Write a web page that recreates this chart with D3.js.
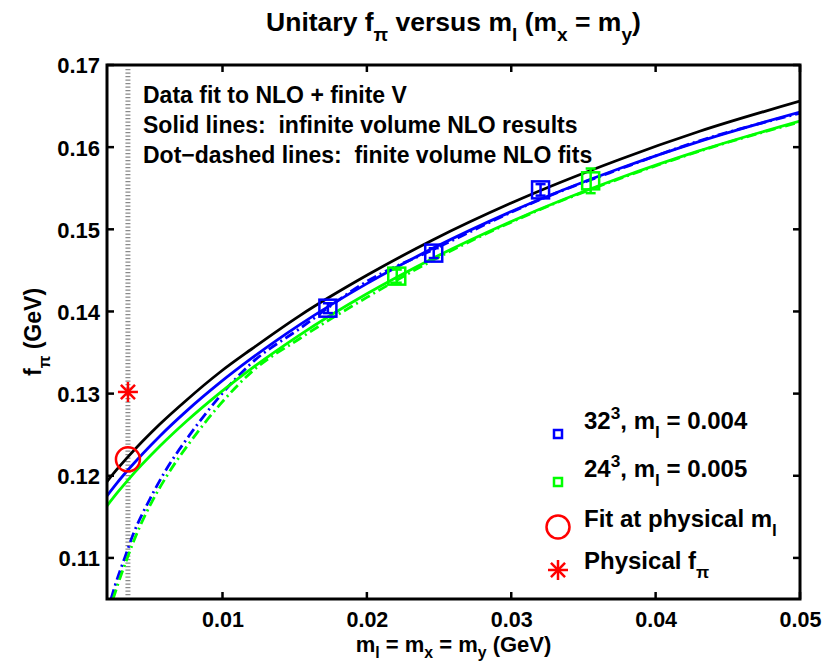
<!DOCTYPE html>
<html><head><meta charset="utf-8">
<script src="https://cdn.jsdelivr.net/npm/d3@7"></script>
<style>
body{margin:0;background:#fff}
svg text{font-family:"Liberation Sans",Arial,Helvetica,sans-serif;font-weight:bold;fill:#000}
</style>
</head><body>
<svg id="chart" width="827" height="663"></svg>
<script>
// ---- data ----
const xTicks = [0.01, 0.02, 0.03, 0.04, 0.05];
const yTicks = [0.11, 0.12, 0.13, 0.14, 0.15, 0.16, 0.17];

// infinite-volume NLO curves (solid)
const solidX      = [0.002, 0.0027, 0.00345, 0.00567, 0.0075, 0.00982, 0.012, 0.01536, 0.02, 0.02456, 0.03, 0.0375, 0.043, 0.05];
const blackSolidY = [0.1193, 0.1208, 0.1223, 0.1263, 0.1292, 0.1326, 0.1354, 0.1395, 0.1444, 0.1487, 0.1532, 0.1585, 0.1619, 0.1656];
const blueSolidY  = [0.11756, 0.11914, 0.12070, 0.12485, 0.12787, 0.13133, 0.13428, 0.13840, 0.14339, 0.14768, 0.15216, 0.15740, 0.16068, 0.16427];
const greenSolidY = [0.11634, 0.11791, 0.11948, 0.12361, 0.12663, 0.13009, 0.13304, 0.13716, 0.14216, 0.14646, 0.15096, 0.15624, 0.15954, 0.16317];

// finite-volume NLO fits (dot-dashed)
const blueDashX  = [0.00228, 0.00255, 0.00325, 0.0038, 0.00498, 0.00601, 0.00774, 0.00968, 0.0119, 0.01536, 0.02, 0.02456, 0.03197, 0.0375, 0.04304, 0.04996];
const blueDashY  = [0.1050, 0.10659, 0.11012, 0.11281, 0.11720, 0.12049, 0.1250, 0.12939, 0.13354, 0.13793, 0.14366, 0.1475, 0.15360, 0.15732, 0.16077, 0.16411];
const greenDashX = [0.00242, 0.00269, 0.00338, 0.00394, 0.00511, 0.00615, 0.00788, 0.00982, 0.01204, 0.01536, 0.02, 0.02456, 0.03197, 0.0375, 0.04304, 0.04996];
const greenDashY = [0.1050, 0.10646, 0.10988, 0.11244, 0.11683, 0.1200, 0.12439, 0.12866, 0.13268, 0.13671, 0.14171, 0.14622, 0.15238, 0.15616, 0.15951, 0.16305];

// lattice data points
const blueX   = [0.0173, 0.02463, 0.03203];
const blueY   = [0.1404, 0.1471, 0.1548];
const blueErr = [0.0006, 0.0006, 0.0007];
const greenX   = [0.02207, 0.0355];
const greenY   = [0.1443, 0.1559];
const greenErr = [0.0008, 0.0015];

// physical point
const physM = 0.00345;
const fitAtPhys = 0.1220;
const physF = 0.1302;

const notes = ["Data fit to NLO + finite V", "Solid lines:  infinite volume NLO results", "Dot\u2212dashed lines:  finite volume NLO fits"];

// ---- layout ----
const L = 107, R = 800, T = 65, B = 599;
const svg = d3.select("#chart");
const x = d3.scaleLinear().domain([0.002, 0.05]).range([L, R]);
const y = d3.scaleLinear().domain([0.105, 0.17]).range([B, T]);

const BLUE = "#0000ff", GREEN = "#00ff00", RED = "#ff0000";

svg.append("defs").append("clipPath").attr("id", "clip")
  .append("rect").attr("x", L).attr("y", T).attr("width", R - L).attr("height", B - T);

// rich text helper; mode 0 normal, 1 sub, 2 sup
function rich(sel, parts, size, subShift) {
  const ss = subShift === undefined ? 0.38 : subShift;
  let shift = 0;
  parts.forEach(([t, m]) => {
    const ts = sel.append("tspan").text(t);
    let target = 0, fs = size;
    if (m === 1) { target = size * ss; fs = size * 0.72; }
    if (m === 2) { target = -size * 0.42; fs = size * 0.72; }
    ts.attr("dy", target - shift).attr("font-size", fs);
    shift = target;
  });
}

// dotted vertical line at physical mass
svg.append("line")
  .attr("x1", x(physM)).attr("x2", x(physM)).attr("y1", T + 4).attr("y2", B - 2)
  .attr("stroke", "#8a8a8a").attr("stroke-width", 5).attr("stroke-dasharray", "1.3,2.2");

// axes (labels via d3 axes, box and inward ticks drawn separately)
const axG = svg.append("g");
const bottomAxis = d3.axisBottom(x).tickValues(xTicks).tickSize(0).tickFormat(d3.format(".2f"));
const leftAxis = d3.axisLeft(y).tickValues(yTicks).tickSize(0).tickFormat(d3.format(".2f"));
const gx = axG.append("g").attr("transform", `translate(0,${B})`).call(bottomAxis);
gx.select(".domain").remove();
gx.selectAll("text").attr("dy", 0).attr("y", 28).attr("font-size", 21.5)
  .style("font-family", "Liberation Sans, Arial, sans-serif").style("font-weight", "bold");
const gy = axG.append("g").attr("transform", `translate(${L},0)`).call(leftAxis);
gy.select(".domain").remove();
gy.selectAll("text").attr("x", -7).attr("dy", "0.36em").attr("font-size", 22)
  .style("font-family", "Liberation Sans, Arial, sans-serif").style("font-weight", "bold");

const tickLen = 7;
xTicks.forEach(v => {
  axG.append("line").attr("x1", x(v)).attr("x2", x(v)).attr("y1", B).attr("y2", B - tickLen).attr("stroke", "#000").attr("stroke-width", 2.5);
  axG.append("line").attr("x1", x(v)).attr("x2", x(v)).attr("y1", T).attr("y2", T + tickLen).attr("stroke", "#000").attr("stroke-width", 2.5);
});
yTicks.forEach(v => {
  axG.append("line").attr("x1", L).attr("x2", L + tickLen).attr("y1", y(v)).attr("y2", y(v)).attr("stroke", "#000").attr("stroke-width", 2.5);
  axG.append("line").attr("x1", R).attr("x2", R - tickLen).attr("y1", y(v)).attr("y2", y(v)).attr("stroke", "#000").attr("stroke-width", 2.5);
});

// curves
const plotG = svg.append("g").attr("clip-path", "url(#clip)");
function curve(xs, ys, color, dash, w) {
  const line = d3.line().x(d => x(d[0])).y(d => y(d[1])).curve(d3.curveMonotoneX);
  plotG.append("path").datum(xs.map((v, i) => [v, ys[i]]))
    .attr("d", line).attr("fill", "none").attr("stroke", color).attr("stroke-width", w)
    .attr("stroke-dasharray", dash);
}
curve(blueDashX, blueDashY, BLUE, "10,4,2,4", 2.8);
curve(greenDashX, greenDashY, GREEN, "10,4,2,4", 2.8);
curve(solidX, blackSolidY, "#000", null, 2.8);
curve(solidX, blueSolidY, BLUE, null, 2.8);
curve(solidX, greenSolidY, GREEN, null, 2.8);

// data points with error bars
function points(xs, ys, es, color) {
  xs.forEach((v, i) => {
    const cx = x(v), cy = y(ys[i]);
    const y1 = y(ys[i] + es[i]), y2 = y(ys[i] - es[i]);
    plotG.append("line").attr("x1", cx).attr("x2", cx).attr("y1", y1).attr("y2", y2).attr("stroke", color).attr("stroke-width", 2.5);
    [y1, y2].forEach(yy => plotG.append("line").attr("x1", cx - 5).attr("x2", cx + 5).attr("y1", yy).attr("y2", yy).attr("stroke", color).attr("stroke-width", 2.5));
    plotG.append("rect").attr("x", cx - 8.5).attr("y", cy - 8.5).attr("width", 17).attr("height", 17)
      .attr("fill", "none").attr("stroke", color).attr("stroke-width", 2.5);
  });
}
points(blueX, blueY, blueErr, BLUE);
points(greenX, greenY, greenErr, GREEN);

// physical markers
function asterisk(g, cx, cy, r, color) {
  [0, 45, 90, 135].forEach(a => {
    const rad = a * Math.PI / 180;
    g.append("line").attr("x1", cx - r * Math.cos(rad)).attr("x2", cx + r * Math.cos(rad))
      .attr("y1", cy - r * Math.sin(rad)).attr("y2", cy + r * Math.sin(rad))
      .attr("stroke", color).attr("stroke-width", 2.5);
  });
}
svg.append("circle").attr("cx", x(physM)).attr("cy", y(fitAtPhys)).attr("r", 12)
  .attr("fill", "none").attr("stroke", RED).attr("stroke-width", 2.5);
asterisk(svg, x(physM), y(physF), 10, RED);

// frame
svg.append("rect").attr("x", L).attr("y", T).attr("width", R - L).attr("height", B - T)
  .attr("fill", "none").attr("stroke", "#000").attr("stroke-width", 3);

// annotations
notes.forEach((t, i) => {
  svg.append("text").attr("x", 143).attr("y", 103 + i * 30).attr("font-size", 23)
    .style("white-space", "pre").text(t);
});

// legend
const legY = [429, 477, 527, 569];
const legParts = [
  [["32", 0], ["3", 2], [", m", 0], ["l", 1], [" = 0.004", 0]],
  [["24", 0], ["3", 2], [", m", 0], ["l", 1], [" = 0.005", 0]],
  [["Fit at physical m", 0], ["l", 1]],
  [["Physical f", 0], ["π", 1]]
];
legParts.forEach((p, i) => {
  const t = svg.append("text").attr("x", 584).attr("y", legY[i]).attr("font-size", 24);
  rich(t, p, 24);
});
const LX = 558;
svg.append("rect").attr("x", LX - 4).attr("y", 434 - 4).attr("width", 8).attr("height", 8).attr("fill", "none").attr("stroke", BLUE).attr("stroke-width", 2.5);
svg.append("rect").attr("x", LX - 4).attr("y", 482 - 4).attr("width", 8).attr("height", 8).attr("fill", "none").attr("stroke", GREEN).attr("stroke-width", 2.5);
svg.append("circle").attr("cx", LX).attr("cy", 527).attr("r", 11.5).attr("fill", "none").attr("stroke", RED).attr("stroke-width", 2.5);
asterisk(svg, LX, 570, 10, RED);

// title
const title = svg.append("text").attr("x", (L + R) / 2).attr("y", 31).attr("text-anchor", "middle").attr("font-size", 26.5);
rich(title, [["Unitary f", 0], ["π", 1], [" versus m", 0], ["l", 1], [" (m", 0], ["x", 1], [" = m", 0], ["y", 1], [")", 0]], 26.5);

// x label
const xl = svg.append("text").attr("x", (L + R) / 2).attr("y", 652).attr("text-anchor", "middle").attr("font-size", 22);
rich(xl, [["m", 0], ["l", 1], [" = m", 0], ["x", 1], [" = m", 0], ["y", 1], [" (GeV)", 0]], 22, 0.28);

// y label
const yl = svg.append("text").attr("transform", `translate(41,${(T + B) / 2}) rotate(-90)`).attr("text-anchor", "middle").attr("font-size", 23);
rich(yl, [["f", 0], ["π", 1], [" (GeV)", 0]], 23);
</script>
</body></html>
